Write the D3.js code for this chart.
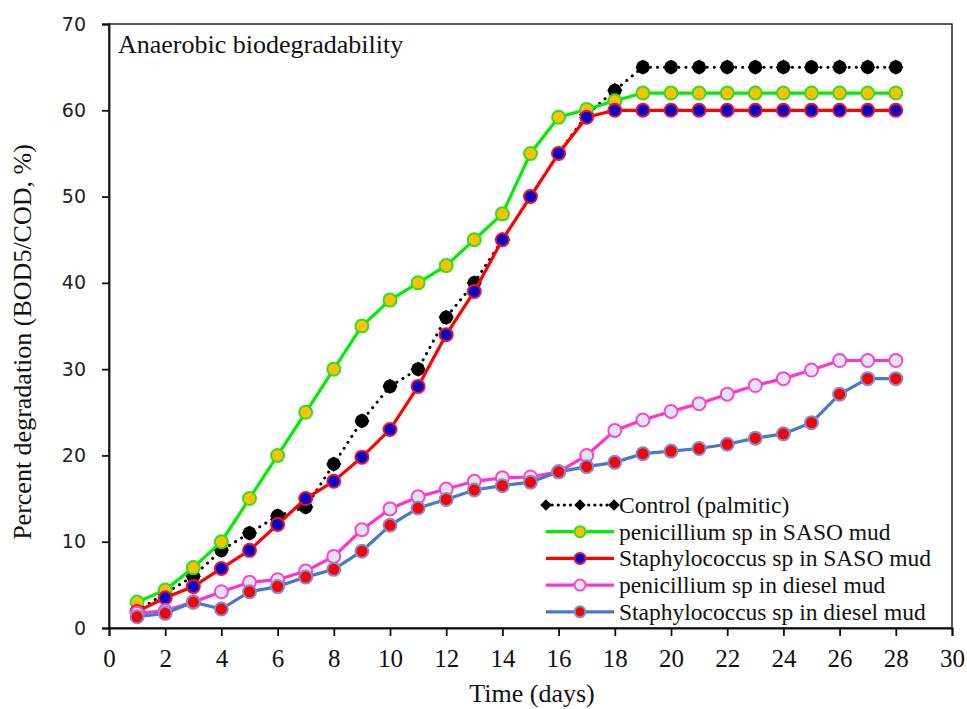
<!DOCTYPE html>
<html>
  <head>
    <style>
      body { margin: 0px; overflow: hidden; background: #fff; }
      .serif { font-family: 'Liberation Serif', 'Times New Roman', 'DejaVu Serif', serif; }
      .sans { font-family: 'DejaVu Sans', Verdana, sans-serif; }
    </style>
    <script src="https://d3js.org/d3.v7.min.js"></script>
  </head>
  <body>
    <svg width="967" height="709"></svg>
    <script>
      // data
      const days = d3.range(1, 29);
      const control = [2, 4, 6, 9, 11, 13, 14, 19, 24, 28, 30, 36, 40, 45, 50, 55, 59.5, 62.3, 65, 65, 65, 65, 65, 65, 65, 65, 65, 65];
      const penSaso = [3, 4.4, 7, 10, 15, 20, 25, 30, 35, 38, 40, 42, 45, 48, 55, 59.2, 60.1, 61.1, 62, 62, 62, 62, 62, 62, 62, 62, 62, 62];
      const staphSaso = [1.9, 3.5, 4.8, 6.9, 9, 12, 15, 17, 19.8, 23, 28, 34, 39, 45, 50, 55, 59.2, 60, 60, 60, 60, 60, 60, 60, 60, 60, 60, 60];
      const penDiesel = [1.7, 2, 3, 4.2, 5.3, 5.6, 6.6, 8.3, 11.4, 13.8, 15.2, 16.1, 17, 17.4, 17.5, 18.1, 20, 22.9, 24.1, 25.1, 26, 27.1, 28.1, 28.9, 29.9, 31, 31, 31];
      const staphDiesel = [1.3, 1.7, 3, 2.2, 4.2, 4.8, 5.9, 6.8, 8.9, 11.9, 13.9, 14.9, 16, 16.5, 16.9, 18.1, 18.7, 19.2, 20.2, 20.5, 20.8, 21.3, 22, 22.5, 23.8, 27.1, 28.9, 28.9];
      const xTicks = d3.range(0, 31, 2);
      const yTicks = d3.range(0, 71, 10);

      const series = [
        { name: 'Control (palmitic)', values: control, line: '#000', fill: '#000', stroke: '#000', dotted: true },
        { name: 'penicillium sp in SASO mud', values: penSaso, line: '#00ee00', fill: '#ffc000', stroke: '#33dd22' },
        { name: 'Staphylococcus sp in SASO mud', values: staphSaso, line: '#ff0000', fill: '#0000cc', stroke: '#ee1133' },
        { name: 'penicillium sp in diesel mud', values: penDiesel, line: '#ff33cc', fill: '#dfe6f2', stroke: '#ff44cc' },
        { name: 'Staphylococcus sp in diesel mud', values: staphDiesel, line: '#4a78c8', fill: '#ff0000', stroke: '#7d8fd8' }
      ];

      const svg = d3.select('svg');
      const margin = { top: 24, right: 15, bottom: 81, left: 109 };
      const innerWidth = 967 - margin.left - margin.right;
      const innerHeight = 709 - margin.top - margin.bottom;

      const xScale = d3.scaleLinear().domain([0, 30]).range([0, innerWidth]);
      const yScale = d3.scaleLinear().domain([0, 70]).range([innerHeight, 0]);

      const g = svg.append('g')
        .attr('transform', `translate(${margin.left},${margin.top})`);

      // frame
      g.append('rect')
        .attr('width', innerWidth).attr('height', innerHeight)
        .attr('fill', 'none').attr('stroke', '#222').attr('stroke-width', 1.5);

      const xAxis = g.append('g')
        .attr('transform', `translate(0,${innerHeight})`)
        .call(d3.axisBottom(xScale).tickValues(xTicks).tickSize(8).tickPadding(13));
      xAxis.attr('font-family', null).attr('font-size', null);
      xAxis.selectAll('text')
        .attr('class', 'serif').style('font-size', '25px').attr('fill', '#111');

      const yAxis = g.append('g')
        .call(d3.axisLeft(yScale).tickValues(yTicks).tickSize(7).tickPadding(16));
      yAxis.attr('font-family', null).attr('font-size', null);
      yAxis.selectAll('text')
        .attr('class', 'sans').style('font-size', '19px').attr('fill', '#222');
      svg.selectAll('.domain, .tick line').attr('stroke', '#111').attr('stroke-width', 1.8);

      const line = d3.line()
        .x((d, i) => xScale(days[i]))
        .y(d => yScale(d));

      const diamond = d3.symbol().type(d3.symbolDiamond2).size(150);

      series.forEach(s => {
        g.append('path')
          .datum(s.values)
          .attr('fill', 'none')
          .attr('stroke', s.line)
          .attr('stroke-width', s.dotted ? 3 : 3.2)
          .attr('stroke-dasharray', s.dotted ? '0.1,7' : null)
          .attr('stroke-linecap', s.dotted ? 'round' : 'butt')
          .attr('d', line);

        const pts = g.append('g').selectAll('.pt').data(s.values).enter();
        if (s.dotted) {
          const m = pts.append('g')
            .attr('transform', (d, i) => `translate(${xScale(days[i])},${yScale(d)})`);
          m.append('circle').attr('r', 6.8).attr('fill', '#000');
          m.append('path').attr('d', diamond).attr('fill', '#000');
        } else {
          pts.append('circle')
            .attr('cx', (d, i) => xScale(days[i]))
            .attr('cy', d => yScale(d))
            .attr('r', 6.5)
            .attr('fill', s.fill).attr('stroke', s.stroke).attr('stroke-width', 2);
        }
      });

      // legend
      const legend = svg.append('g').attr('transform', 'translate(546,505)');
      series.forEach((s, i) => {
        const row = legend.append('g').attr('transform', `translate(0,${i * 26.7})`);
        row.append('line')
          .attr('x1', 0).attr('x2', 68)
          .attr('stroke', s.line).attr('stroke-width', 3.2)
          .attr('stroke-dasharray', s.dotted ? '0.1,6' : null)
          .attr('stroke-linecap', s.dotted ? 'round' : 'butt');
        if (s.dotted) {
          [0, 34, 68].forEach(x => {
            row.append('path')
              .attr('d', d3.symbol().type(d3.symbolDiamond2).size(85))
              .attr('transform', `translate(${x},0)`)
              .attr('fill', '#000');
          });
        } else {
          row.append('circle')
            .attr('cx', 34).attr('r', 5.5)
            .attr('fill', s.fill).attr('stroke', s.stroke).attr('stroke-width', 2);
        }
        row.append('text')
          .attr('class', 'serif')
          .attr('x', 73).attr('y', 8)
          .style('font-size', '23.5px')
          .attr('fill', '#111')
          .text(s.name);
      });

      svg.append('text')
        .attr('class', 'serif')
        .attr('x', 118).attr('y', 53)
        .style('font-size', '26px')
        .attr('fill', '#111')
        .text('Anaerobic biodegradability');

      svg.append('text')
        .attr('class', 'serif')
        .attr('x', 532).attr('y', 702)
        .attr('text-anchor', 'middle')
        .style('font-size', '26px')
        .attr('fill', '#111')
        .text('Time (days)');

      svg.append('text')
        .attr('class', 'serif')
        .attr('transform', 'translate(31,342) rotate(-90)')
        .attr('text-anchor', 'middle')
        .style('font-size', '26px')
        .attr('fill', '#111')
        .text('Percent degradation (BOD5/COD, %)');
    </script>
  </body>
</html>
